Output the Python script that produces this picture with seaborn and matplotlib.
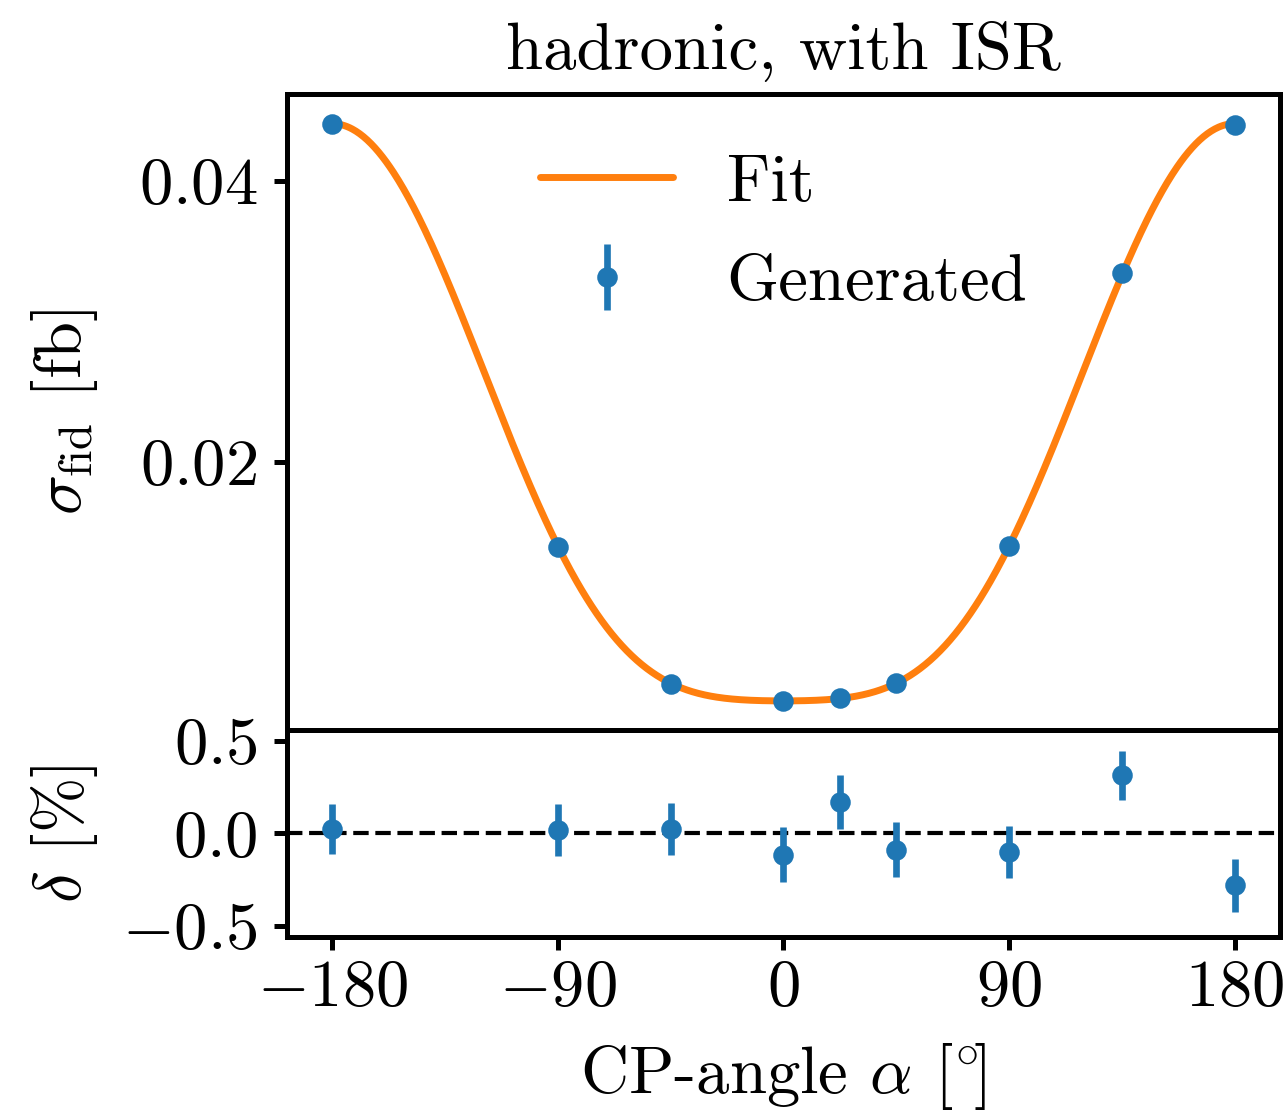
import numpy as np
import pandas as pd
import seaborn as sns
import matplotlib
matplotlib.use("Agg")
import matplotlib.pyplot as plt

# generated cross sections vs CP-angle
alpha = [-180, -90, -45, 0, 22.5, 45, 90, 135, 180]
sigma = [0.04406, 0.01395, 0.00420, 0.00300, 0.00320, 0.00427, 0.01402, 0.03345, 0.04399]
# relative deviation from fit [%] and its uncertainty
delta = [0.022, 0.020, 0.025, -0.114, 0.169, -0.087, -0.100, 0.313, -0.281]
delta_err = [0.135, 0.140, 0.140, 0.148, 0.146, 0.150, 0.140, 0.135, 0.142]

sns.set_style("ticks")
plt.rcParams.update({
    "font.family": "serif",
    "font.serif": ["cmr10"],
    "mathtext.fontset": "cm",
    "axes.formatter.use_mathtext": True,
    "font.size": 24,
    "axes.edgecolor": "black",
    "axes.linewidth": 1.8,
    "xtick.color": "black",
    "ytick.color": "black",
    "text.color": "black",
    "axes.labelcolor": "black",
    "xtick.major.width": 1.8,
    "ytick.major.width": 1.8,
    "xtick.major.size": 4.6,
    "ytick.major.size": 4.6,
    "ytick.major.pad": 6,
})

a = np.radians(np.array(alpha))
s = np.array(sigma)
# fit sigma(alpha) = c0 + c1 cos(alpha) + c2 cos(2 alpha)
A = np.column_stack([np.ones_like(a), np.cos(a), np.cos(2 * a)])
coef, *_ = np.linalg.lstsq(A, s, rcond=None)
grid = np.linspace(-180, 180, 721)
g = np.radians(grid)
fit = pd.DataFrame({"alpha": grid,
                    "sigma": coef[0] + coef[1] * np.cos(g) + coef[2] * np.cos(2 * g)})

fig = plt.figure(figsize=(6.43, 5.565), dpi=200)
gs = fig.add_gridspec(2, 1, height_ratios=[635, 207], hspace=0,
                      left=0.2232, right=0.9953, top=0.9155, bottom=0.1581)
ax = fig.add_subplot(gs[0])
axr = fig.add_subplot(gs[1], sharex=ax)

sns.lineplot(data=fit, x="alpha", y="sigma", color="#ff7f0e", lw=2.5,
             label="Fit", ax=ax)
ax.errorbar(alpha, sigma, yerr=s * np.array(delta_err) / 100, fmt="o",
            color="#1f77b4", ms=6.4, elinewidth=2.4, label="Generated")
ax.set_yticks([0.02, 0.04])
ax.set_ylabel(r"$\sigma_\mathrm{fid}$ [fb]", labelpad=8)
ax.set_xlabel("")
ax.tick_params(axis="x", bottom=False, labelbottom=False)
ax.set_title("hadronic, with ISR", fontsize=24, pad=9)
ax.legend(loc="upper center", frameon=False, labelspacing=0.6)

axr.axhline(0, color="black", ls="--", lw=1.5)
axr.errorbar(alpha, delta, yerr=delta_err, fmt="o", color="#1f77b4",
             ms=6.4, elinewidth=2.4)
axr.set_ylim(-0.56, 0.56)
axr.set_yticks([-0.5, 0.0, 0.5])
axr.set_xticks([-180, -90, 0, 90, 180])
axr.set_ylabel(r"$\delta$ [%]", labelpad=8)
axr.set_xlabel(r"CP-angle $\alpha$ $[^{\circ}\!]$", labelpad=8)

fig.align_ylabels([ax, axr])
fig.savefig("out.png", dpi=200)
